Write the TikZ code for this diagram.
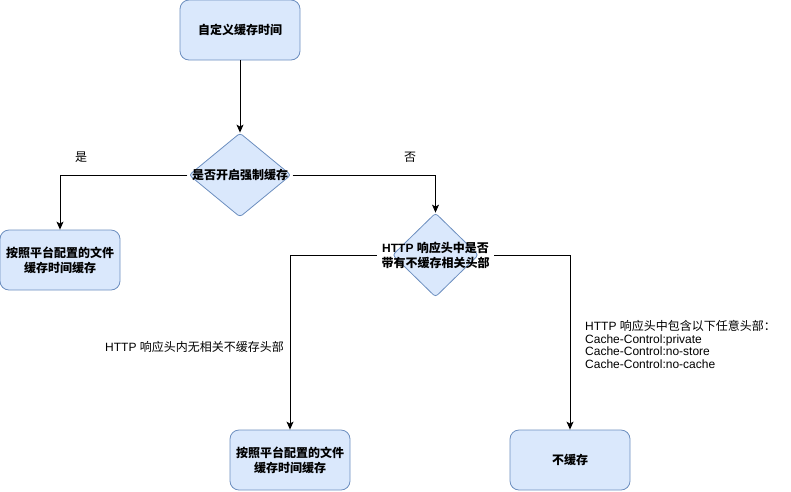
\documentclass[tikz,border=0pt]{standalone}
\usepackage{fontspec}
\setmainfont{Liberation Sans}
\newfontfamily\cjk{Noto Sans CJK SC}
\usetikzlibrary{shapes.geometric,arrows.meta}
\newcommand\zh[1]{{\cjk #1}}
\definecolor{fillblue}{HTML}{DAE8FC}
\definecolor{strokeblue}{HTML}{6C8EBF}
\begin{document}
\begin{tikzpicture}[x=1pt,y=-1pt,
  box/.style={draw=strokeblue, fill=fillblue, rounded corners=9pt, minimum width=120pt, minimum height=60pt, inner sep=0pt, align=center, font=\bfseries\fontsize{12}{15}\selectfont, line width=0.8pt},
  dia/.style={draw=strokeblue, fill=fillblue, diamond, rounded corners=3pt, inner sep=0pt, line width=0.8pt},
  dtext/.style={align=center, inner sep=4.5pt, font=\bfseries\fontsize{12}{15}\selectfont},
  lbl/.style={inner sep=0pt, font=\fontsize{12}{12.4}\selectfont, align=left},
  arr/.style={draw=black, line width=0.9pt, -{Stealth[length=8pt,width=7pt,inset=2pt]}}
]
\useasboundingbox (0,0) rectangle (791,491);

\node[box] (b1) at (240,30) {\zh{自定义缓存时间}};
\node[dia, minimum width=102pt, minimum height=84pt] (d1) at (240,175) {};
\node[dtext] (d1t) at (240,175) {\zh{是否开启强制缓存}};
\node[box] (b2) at (60,260) {\zh{按照平台配置的文件}\\\zh{缓存时间缓存}};
\node[dia, minimum width=86pt, minimum height=84pt] (d2) at (435.5,255) {};
\node[dtext] (d2t) at (435.5,255.5) {HTTP \zh{响应头中是否}\\\zh{带有不缓存相关头部}};
\node[box] (b3) at (290,460) {\zh{按照平台配置的文件}\\\zh{缓存时间缓存}};
\node[box] (b4) at (570,460) {\zh{不缓存}};

\node[lbl] (lyes) at (81,157) {\zh{是}};
\node[lbl] (lno) at (410,157) {\zh{否}};
\node[lbl, anchor=west] (lnone) at (105,347) {HTTP \zh{响应头内无相关不缓存头部}};
\node[lbl, anchor=north west] (lany) at (585,320.5) {HTTP \zh{响应头中包含以下任意头部：}\\Cache-Control:private\\Cache-Control:no-store\\Cache-Control:no-cache};

\draw[arr] (b1) -- (d1);
\draw[arr] (d1t.west) -| (b2.north);
\draw[arr] (d1t.east) -| (d2.north);
\draw[arr] (d2t.west) -| (b3.north);
\draw[arr] (d2t.east) -| (b4.north);
\end{tikzpicture}
\end{document}
